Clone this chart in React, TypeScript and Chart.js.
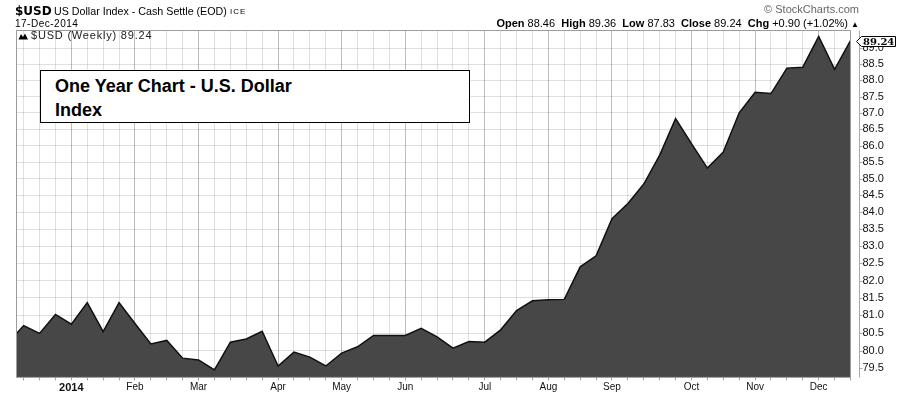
import React, { useEffect, useRef } from "react";
import { Chart, registerables } from "chart.js";

Chart.register(...registerables);

// ---- data (weekly closes of $USD, Dec 2013 - Dec 2014) ----
const weekDates = [
  "2013-12-09", "2013-12-16", "2013-12-23", "2013-12-30",
  "2014-01-06", "2014-01-13", "2014-01-20", "2014-01-27",
  "2014-02-03", "2014-02-10", "2014-02-17", "2014-02-24",
  "2014-03-03", "2014-03-10", "2014-03-17", "2014-03-24", "2014-03-31",
  "2014-04-07", "2014-04-14", "2014-04-21", "2014-04-28",
  "2014-05-05", "2014-05-12", "2014-05-19", "2014-05-26",
  "2014-06-02", "2014-06-09", "2014-06-16", "2014-06-23", "2014-06-30",
  "2014-07-07", "2014-07-14", "2014-07-21", "2014-07-28",
  "2014-08-04", "2014-08-11", "2014-08-18", "2014-08-25",
  "2014-09-01", "2014-09-08", "2014-09-15", "2014-09-22", "2014-09-29",
  "2014-10-06", "2014-10-13", "2014-10-20", "2014-10-27",
  "2014-11-03", "2014-11-10", "2014-11-17", "2014-11-24",
  "2014-12-01", "2014-12-08", "2014-12-15",
];

const usdCloses = [
  80.21, 80.71, 80.49, 81.03,
  80.75, 81.37, 80.54, 81.37,
  80.77, 80.19, 80.29, 79.79,
  79.74, 79.46, 80.24, 80.33, 80.55,
  79.57, 79.96, 79.82, 79.57,
  79.93, 80.11, 80.43, 80.43,
  80.43, 80.63, 80.39, 80.07, 80.26,
  80.24, 80.59, 81.14, 81.42,
  81.45, 81.46, 82.40, 82.72,
  83.81, 84.26, 84.84, 85.71, 86.82,
  86.06, 85.32, 85.80, 87.00,
  87.63, 87.59, 88.38, 88.41,
  89.37, 88.34, 89.24,
];

const monthTickDates = [
  "2014-01-06", "2014-02-03", "2014-03-03", "2014-04-07", "2014-05-05", "2014-06-02",
  "2014-07-07", "2014-08-04", "2014-09-01", "2014-10-06", "2014-11-03", "2014-12-01",
];
const monthTickLabels = ["2014", "Feb", "Mar", "Apr", "May", "Jun", "Jul", "Aug", "Sep", "Oct", "Nov", "Dec"];

const priceTicks = [79.5, 80.0, 80.5, 81.0, 81.5, 82.0, 82.5, 83.0, 83.5, 84.0, 84.5, 85.0, 85.5, 86.0, 86.5, 87.0, 87.5, 88.0, 88.5, 89.0];

const lastClose = 89.24;
const yMin = 79.25;
const yMax = 89.56;
const xMin = 0.55;

const SANS = "Arial, 'Liberation Sans', sans-serif";

export default function App() {
  const ref = useRef<HTMLCanvasElement>(null);

  useEffect(() => {
    document.body.style.margin = "0";
    const monthIdx = monthTickDates.map((d) => weekDates.indexOf(d));
    const points = usdCloses.map((v, i) => ({ x: i, y: v }));
    const weekIdx = weekDates.map((_, i) => i).filter((i) => i >= 1);

    const frame = {
      id: "frame",
      afterDraw(chart: any) {
        const { ctx, chartArea: a } = chart;
        const ys = chart.scales.y;
        ctx.save();
        ctx.lineWidth = 1;
        ctx.strokeStyle = "#9c9c9c";
        ctx.strokeRect(a.left, a.top, a.right - a.left, a.bottom - a.top);
        // secondary price axis with small tick marks
        const ax = 859.5;
        ctx.strokeStyle = "#a8a8a8";
        ctx.beginPath();
        ctx.moveTo(ax, a.top);
        ctx.lineTo(ax, a.bottom);
        priceTicks.forEach((t) => {
          const py = Math.round(ys.getPixelForValue(t)) + 0.5;
          ctx.moveTo(ax, py);
          ctx.lineTo(ax + 3, py);
        });
        ctx.stroke();
        // last value callout
        const cy = Math.round(ys.getPixelForValue(lastClose)) + 0.5;
        ctx.beginPath();
        ctx.moveTo(856.5, cy);
        ctx.lineTo(861.5, cy - 5);
        ctx.lineTo(895.5, cy - 5);
        ctx.lineTo(895.5, cy + 5);
        ctx.lineTo(861.5, cy + 5);
        ctx.closePath();
        ctx.fillStyle = "#fff";
        ctx.fill();
        ctx.strokeStyle = "#000";
        ctx.stroke();
        ctx.fillStyle = "#000";
        ctx.font = "bold 10px 'DejaVu Serif', serif";
        ctx.textBaseline = "middle";
        ctx.textAlign = "left";
        ctx.fillText(lastClose.toFixed(2), 863, cy + 0.5);
        ctx.restore();
      },
    };

    const chart = new Chart(ref.current as HTMLCanvasElement, {
      type: "line",
      data: {
        datasets: [
          {
            data: points,
            fill: "start",
            backgroundColor: "#474747",
            borderColor: "#111111",
            borderWidth: 1.5,
            pointRadius: 0,
            tension: 0,
            clip: 0,
          } as any,
        ],
      },
      options: {
        animation: false,
        responsive: false,
        events: [],
        layout: { padding: { left: 16.5, top: 30.5, right: 0, bottom: 0 } },
        plugins: { legend: { display: false }, tooltip: { enabled: false } },
        scales: {
          x: {
            type: "linear",
            position: "bottom",
            min: xMin,
            max: weekDates.length - 1,
            z: 1,
            afterBuildTicks: (s: any) => {
              s.ticks = weekIdx.map((v) => ({ value: v }));
            },
            afterFit: (s: any) => {
              s.height = 16.5;
            },
            border: { display: false },
            grid: {
              color: (c: any) =>
                c.tick && monthIdx.includes(c.tick.value) ? "rgba(0,0,0,0.26)" : "rgba(0,0,0,0.12)",
              drawTicks: true,
              tickLength: 3,
              tickColor: "#a0a0a0",
            },
            ticks: {
              autoSkip: false,
              maxRotation: 0,
              minRotation: 0,
              padding: 1,
              color: "#111",
              font: (c: any) =>
                c.tick && c.tick.value === monthIdx[0]
                  ? { family: SANS, size: 11, weight: "bold" }
                  : { family: SANS, size: 10 },
              callback: (v: any) => {
                const k = monthIdx.indexOf(v);
                return k >= 0 ? monthTickLabels[k] : "";
              },
            },
          },
          y: {
            type: "logarithmic",
            position: "right",
            min: yMin,
            max: yMax,
            z: 1,
            afterBuildTicks: (s: any) => {
              s.ticks = priceTicks.map((v) => ({ value: v }));
            },
            afterFit: (s: any) => {
              s.width = 49.5;
            },
            border: { display: false },
            grid: { color: "rgba(0,0,0,0.12)", drawTicks: false },
            ticks: {
              padding: 12,
              color: "#111",
              font: { family: SANS, size: 11 },
              callback: (v: any) => Number(v).toFixed(1),
            },
          },
        },
      } as any,
      plugins: [frame],
    });
    return () => chart.destroy();
  }, []);

  const abs = (o: any) => ({ position: "absolute" as const, whiteSpace: "pre" as const, ...o });

  return (
    <div
      style={{
        position: "absolute",
        left: 0,
        top: 0,
        width: 900,
        height: 396,
        background: "#fff",
        overflow: "hidden",
        fontFamily: SANS,
        color: "#000",
      }}
    >
      <canvas ref={ref} width={900} height={396} style={{ position: "absolute", left: 0, top: 0, width: 900, height: 396 }} />

      <div style={abs({ left: 15, top: 4.85, fontFamily: "'DejaVu Sans', sans-serif", fontWeight: "bold", fontSize: 12, lineHeight: "12px" })}>
        $USD
      </div>
      <div style={abs({ left: 54, top: 5.95, fontSize: 10.7, lineHeight: "10.7px" })}>US Dollar Index - Cash Settle (EOD)</div>
      <div style={abs({ left: 230, top: 8.2, fontSize: 8, lineHeight: "8px", letterSpacing: "1px" })}>ICE</div>
      <div style={abs({ left: 15, top: 18.5, fontSize: 10, lineHeight: "10px", letterSpacing: "0.5px" })}>17-Dec-2014</div>

      <div style={abs({ right: 41, top: 4.2, fontSize: 11, lineHeight: "11px", color: "#666" })}>© StockCharts.com</div>
      <div style={abs({ right: 41, top: 17.7, fontSize: 11, lineHeight: "11px" })}>
        <b>Open</b> 88.46  <b>High</b> 89.36  <b>Low</b> 87.83  <b>Close</b> 89.24  <b>Chg</b> +0.90 (+1.02%) <span style={{ fontSize: 8 }}>▲</span>
      </div>

      <svg style={{ position: "absolute", left: 18, top: 33 }} width={11} height={7} viewBox="0 0 11 7">
        <polygon points="0.5,6.5 3,1 5,4 7,0.5 10,6.5" fill="#000" />
      </svg>
      <div style={abs({ left: 31, top: 29.7, fontSize: 11, lineHeight: "11px", letterSpacing: "0.8px", color: "#222" })}>
        $USD (Weekly) 89.24
      </div>

      <div
        style={{
          position: "absolute",
          left: 40,
          top: 70,
          width: 430,
          height: 53,
          boxSizing: "border-box",
          border: "1px solid #000",
          background: "#fff",
        }}
      />
      <div style={abs({ left: 55, top: 75.4, fontSize: 18, lineHeight: "23.3px", fontWeight: "bold" })}>
        {"One Year Chart - U.S. Dollar\nIndex"}
      </div>
    </div>
  );
}
